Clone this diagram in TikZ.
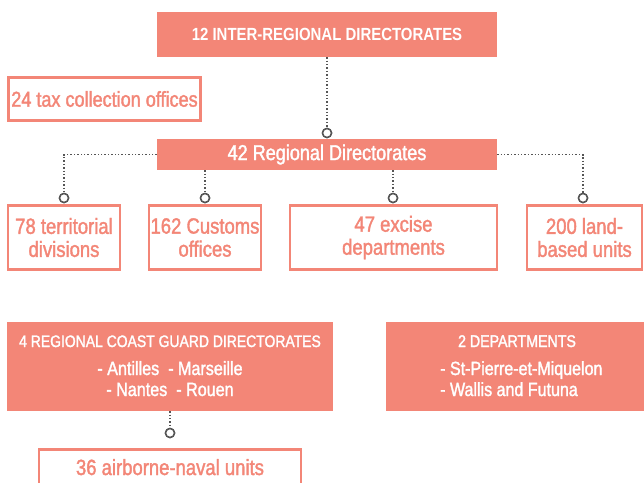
\documentclass[tikz,border=0pt]{standalone}
\usepackage{fontspec}
\setmainfont{Liberation Sans}[FakeStretch=0.85]
\newfontfamily\med{Liberation Sans}[FakeStretch=0.84,FakeBold=1.6]
\definecolor{salmon}{HTML}{F38677}
\definecolor{linegray}{HTML}{555555}
\begin{document}
\begin{tikzpicture}[x=1pt,y=-1pt,
  filledbox/.style={rectangle,fill=salmon,text=white,inner sep=0pt,align=center},
  outlinebox/.style={rectangle,draw=salmon,line width=2.8pt,fill=white,text=salmon,inner sep=0pt,align=center,font=\med\fontsize{22}{23}\selectfont},
  lbl/.style={inner sep=0pt,text=white,align=center},
  dot/.style={circle,draw=linegray,fill=white,line width=1.5pt,minimum size=9pt,inner sep=0pt},
  conn/.style={draw=linegray,line width=1.4pt,dotted}]
\useasboundingbox (0,0) rectangle (644,482);
% top
\node[filledbox,minimum width=340pt,minimum height=45pt,font=\bfseries\fontsize{17.6}{19}\selectfont] (top) at (327,34.5) {12 INTER-REGIONAL DIRECTORATES};
\node[outlinebox,minimum width=192pt,minimum height=43pt,font=\med\fontsize{21.5}{23}\selectfont] (tax) at (104.5,99) {24 tax collection offices};
\node[filledbox,minimum width=340pt,minimum height=31pt,font=\med\fontsize{21.5}{22}\selectfont] (r42) at (327,154.5) {42 Regional Directorates};
% bottom row
\node[outlinebox,minimum width=112pt,minimum height=64pt] (b78) at (64,237.5) {78 territorial\\divisions};
\node[outlinebox,minimum width=112pt,minimum height=64pt] (b162) at (205,237.5) {162 Customs\\offices};
\node[outlinebox,minimum width=207pt,minimum height=64pt] (b47) at (393.5,237.5) {47 excise\\departments};
\node[outlinebox,minimum width=115pt,minimum height=64pt] (b200) at (584.5,237.5) {200 land-\\based units};
% circles
\node[dot] (c1) at (327,133) {};
\node[dot] (c78) at (64,198) {};
\node[dot] (c162) at (205,198) {};
\node[dot] (c47) at (393,198) {};
\node[dot] (c200) at (583,198) {};
% coast guard
\node[filledbox,minimum width=326pt,minimum height=89pt] (cg) at (170,366.5) {};
\node[lbl,font=\med\fontsize{16.6}{20}\selectfont,anchor=base] (cgh) at (170,347) {4 REGIONAL COAST GUARD DIRECTORATES};
\node[lbl,font=\med\fontsize{19.2}{21}\selectfont,anchor=base] (cgl1) at (170,375) {- Antilles\ \ - Marseille};
\node[lbl,font=\med\fontsize{19.2}{21}\selectfont,anchor=base] (cgl2) at (170,396) {- Nantes\ \ - Rouen};
\node[filledbox,minimum width=258pt,minimum height=89pt] (dep) at (515,366.5) {};
\node[lbl,font=\med\fontsize{16.9}{20}\selectfont,anchor=base] (deph) at (517,347) {2 DEPARTMENTS};
\node[lbl,font=\med\fontsize{19.1}{21}\selectfont,anchor=base west] (depl1) at (440,375) {- St-Pierre-et-Miquelon};
\node[lbl,font=\med\fontsize{19.1}{21}\selectfont,anchor=base west] (depl2) at (440,396) {- Wallis and Futuna};
\node[dot] (c36) at (170,433) {};
\node[outlinebox,minimum width=262pt,minimum height=50pt,anchor=north] (b36) at (170,448) {};
\node[text=salmon,font=\med\fontsize{22}{23}\selectfont,inner sep=0pt,anchor=base] (t36) at (170,475) {36 airborne-naval units};
% connectors
\draw[conn] (top.south) -- (c1.north);
\draw[conn] (r42.west) -| (c78.north);
\draw[conn] (r42.east) -| (c200.north);
\draw[conn] (r42.south -| c162) -- (c162.north);
\draw[conn] (r42.south -| c47) -- (c47.north);
\draw[conn] (cg.south) -- (c36.north);
% redraw circles on top
\node[dot] at (c1) {};
\node[dot] at (c78) {};
\node[dot] at (c162) {};
\node[dot] at (c47) {};
\node[dot] at (c200) {};
\node[dot] at (c36) {};
\end{tikzpicture}
\end{document}
